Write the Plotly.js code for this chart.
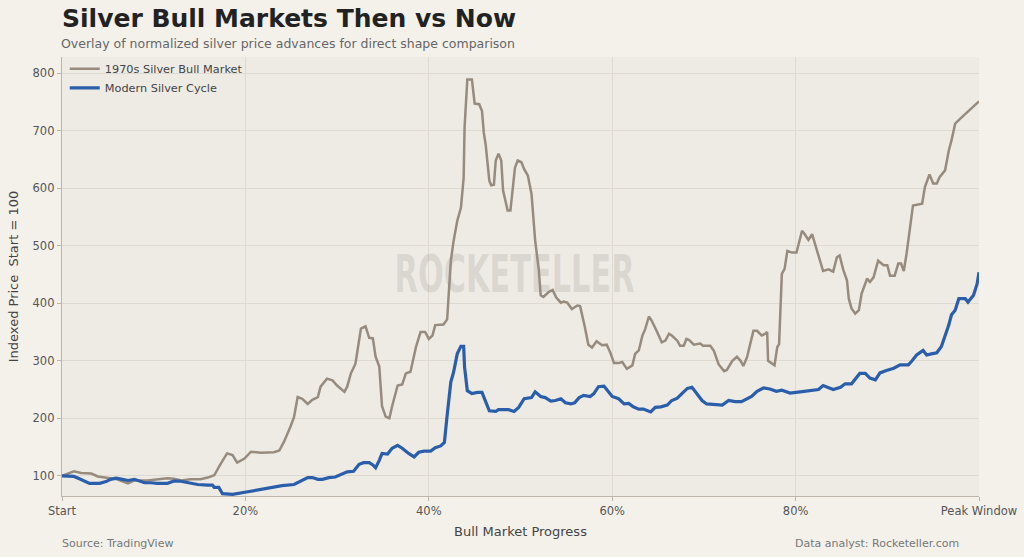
<!DOCTYPE html>
<html>
<head>
<meta charset="utf-8">
<script src="https://cdn.plot.ly/plotly-3.0.1.min.js"></script>
<style>
  html, body { margin: 0; padding: 0; background: #f4f1eb; }
  #chart { width: 1024px; height: 557px; }
</style>
</head>
<body>
<div id="chart"></div>
<script>
// 1970s Silver Bull Market (progress %, indexed price)
const x1970s = [0,1.3,2.1,3.2,3.9,5,6,7.2,7.9,9.3,10.4,11.5,12.2,13,14,15.1,15.9,16.6,17.3,18,18.6,19.1,19.9,20.6,21.7,23.1,23.7,24.2,24.9,25.3,25.7,26.2,26.8,27.3,27.9,28.2,28.9,29.5,30.0,30.8,31.1,31.5,32.0,32.6,33.1,33.5,33.9,34.2,34.6,34.9,35.3,35.7,36.0,36.6,37.1,37.5,38.0,38.6,39.1,39.6,40.0,40.4,40.7,41.6,42.0,42.4,42.7,43.1,43.5,43.8,43.9,44.2,44.7,45.0,45.5,45.8,46.0,46.2,46.6,46.8,47.1,47.3,47.6,47.9,48.1,48.4,48.6,48.9,49.2,49.4,49.7,50.1,50.4,50.8,51.2,51.6,52.0,52.2,52.5,53.1,53.5,53.9,54.4,54.7,55.1,55.6,56.2,56.5,57.0,57.4,57.8,58.3,58.9,59.4,59.8,60.2,60.7,61.1,61.6,62.2,62.5,62.9,63.3,63.6,64.0,64.3,64.9,65.4,65.8,66.2,66.5,67.1,67.4,67.8,68.1,68.4,68.9,69.6,69.9,70.7,71.1,71.6,72.2,72.5,73.1,73.6,74.0,74.3,74.7,75.1,75.4,75.8,76.3,76.7,76.9,77.0,77.4,77.7,78.0,78.2,78.5,78.8,79.1,79.6,80.1,80.7,81.0,81.4,81.8,82.1,82.5,83.0,83.6,84.1,84.5,84.8,85.2,85.6,85.8,86.1,86.5,86.9,87.2,87.8,88.1,88.5,89.0,89.6,90.0,90.3,90.8,91.2,91.5,91.8,92.1,92.5,92.8,93.8,94.1,94.6,95.0,95.4,95.7,96.3,96.7,97.0,97.4,97.9,100];
const y1970s = [100,108,105,104,99,96,94,87,92,92,94,96,95,92,94,94,97,101,121,139,136,123,130,142,140,141,144,159,185,202,237,234,225,232,237,255,269,266,257,246,255,278,295,356,360,340,339,307,290,221,203,200,221,257,259,278,281,324,350,350,338,344,362,363,372,473,508,543,566,618,705,789,789,747,746,734,696,676,613,605,606,648,660,648,596,578,561,561,607,636,648,645,633,622,590,509,457,414,411,420,423,410,401,403,401,390,396,395,360,328,323,334,327,328,314,296,296,298,286,292,312,318,344,355,377,370,350,332,335,347,344,335,326,326,338,336,328,330,326,326,317,294,282,284,300,307,300,291,306,335,352,352,344,347,350,300,295,292,324,329,451,460,491,488,488,526,520,510,520,503,480,456,459,455,480,483,458,440,408,391,382,388,417,443,437,445,474,466,466,448,448,469,469,456,486,538,570,573,602,624,608,608,619,631,665,683,712,720,751];

// Modern Silver Cycle (progress %, indexed price)
const xModern = [0,1.3,1.9,2.4,3.0,4.1,4.8,5.3,5.9,6.6,7.2,7.9,8.4,9.0,9.7,10.4,11.5,12.2,12.8,13.7,14.8,15.9,16.4,16.6,17.1,17.5,18.0,18.6,20.1,22.0,24.0,25.3,26.0,26.8,27.3,27.9,28.4,29.1,29.8,30.6,31.1,31.8,32.4,32.9,33.5,33.9,34.2,34.6,34.9,35.5,36.0,36.6,37.1,37.8,38.4,38.9,39.5,40.2,40.7,41.3,41.7,42.0,42.4,42.7,43.1,43.5,43.8,43.9,44.2,44.7,45.3,45.8,46.2,46.6,47.3,47.6,48.7,49.3,49.8,50.4,51.2,51.6,52.2,52.7,53.3,53.8,54.4,54.9,55.5,55.9,56.4,56.9,57.6,58.0,58.5,59.1,59.4,60.0,60.7,61.3,61.8,62.3,62.9,63.4,64.2,64.7,65.3,66.0,66.5,67.1,67.6,68.2,68.7,69.2,69.8,70.3,71.2,72.0,72.7,73.4,74.1,74.7,75.2,75.8,76.5,77.2,77.9,78.5,79.4,80.5,81.9,82.5,83.0,83.6,84.1,84.9,85.4,86.1,86.5,87.0,87.6,88.1,88.7,89.2,89.9,90.7,91.4,92.3,92.7,93.2,93.9,94.3,94.8,95.4,95.9,96.3,96.7,97.0,97.4,97.8,98.5,98.8,99.4,99.8,100];
const yModern = [100,99,95,91,87,87,90,94,96,94,92,94,91,88,88,87,87,91,91,88,85,84,84,80,80,69,68,68,72,78,83,85,91,97,97,94,94,97,98,103,107,108,120,123,123,119,114,127,139,138,148,153,148,139,133,141,143,143,149,152,158,205,263,280,312,325,325,289,248,243,245,245,228,213,212,215,215,212,219,234,236,246,238,236,230,231,234,227,225,227,236,240,238,243,255,256,250,238,234,225,226,220,216,216,211,219,220,223,231,235,243,252,254,244,231,225,224,223,231,229,229,234,238,247,253,251,247,249,244,246,249,250,257,253,250,254,260,260,268,278,278,270,267,279,283,287,293,293,300,310,318,310,312,314,325,342,362,380,388,408,408,402,414,434,454];

// Axis ticks
const xTickVals = [0, 20, 40, 60, 80, 100];
const xTickText = ["Start", "20%", "40%", "60%", "80%", "Peak Window"];
const yTickVals = [100, 200, 300, 400, 500, 600, 700, 800];

const seriesNames = ["1970s Silver Bull Market", "Modern Silver Cycle"];

const font = "DejaVu Sans, Liberation Sans, sans-serif";
const WATERMARK = "ROCKETELLER";

const traces = [
  {
    x: x1970s, y: y1970s, type: "scatter", mode: "lines",
    name: seriesNames[0],
    line: { color: "#978b7e", width: 2.5 },
    hoverinfo: "skip"
  },
  {
    x: xModern, y: yModern, type: "scatter", mode: "lines",
    name: seriesNames[1],
    line: { color: "#2a5eab", width: 3.2 },
    hoverinfo: "skip"
  }
];

const layout = {
  width: 1024, height: 557,
  paper_bgcolor: "#f4f1eb",
  plot_bgcolor: "#eeebe5",
  margin: { l: 62, r: 45, t: 57, b: 61 },
  font: { family: font, color: "#555", size: 12 },
  title: {
    text: "<b>Silver Bull Markets Then vs Now</b>",
    font: { family: font, size: 25, color: "#222" },
    x: 0, xref: "paper", xanchor: "left",
    y: 0.967, yref: "container", yanchor: "middle",
    pad: { l: 0 }
  },
  showlegend: true,
  legend: {
    x: 0.003, y: 1.006, xanchor: "left", yanchor: "top",
    bgcolor: "rgba(0,0,0,0)",
    font: { family: font, size: 11.3, color: "#444" },
    itemwidth: 30, tracegroupgap: 0
  },
  xaxis: {
    range: [0, 100],
    tickvals: xTickVals, ticktext: xTickText,
    showgrid: true, gridcolor: "#dedad2", gridwidth: 1,
    zeroline: false,
    showline: true, linecolor: "#bdb5aa", linewidth: 1.2,
    ticks: "outside", ticklen: 4, tickcolor: "#bdb5aa",
    tickfont: { family: font, size: 11.5, color: "#555" },
    title: { text: "Bull Market Progress", font: { family: font, size: 13, color: "#444" }, standoff: 9 }
  },
  yaxis: {
    range: [65, 828],
    tickvals: yTickVals,
    showgrid: true, gridcolor: "#dedad2", gridwidth: 1,
    zeroline: false,
    showline: true, linecolor: "#bdb5aa", linewidth: 1.2,
    ticks: "outside", ticklen: 4, tickcolor: "#bdb5aa",
    tickfont: { family: font, size: 11.5, color: "#555" },
    title: { text: "Indexed Price  Start = 100", font: { family: font, size: 13, color: "#444" }, standoff: 11 }
  },
  annotations: [
    {
      text: "Overlay of normalized silver price advances for direct shape comparison",
      xref: "paper", yref: "paper", x: 0, y: 1 + 14 / 439, xanchor: "left", yanchor: "middle",
      xshift: -3,
      showarrow: false, font: { family: font, size: 12.5, color: "#666" }
    },
    {
      text: "<b>" + WATERMARK + "</b>",
      xref: "paper", yref: "paper", x: 0.4935, y: 0.505, xanchor: "center", yanchor: "middle",
      showarrow: false,
      font: { family: "DejaVu Sans, sans-serif", size: 51, color: "rgba(150,145,138,0.22)" }
    },
    {
      text: "Source: TradingView",
      xref: "paper", yref: "paper", x: 0, y: -47 / 439, xanchor: "left", yanchor: "middle",
      xshift: -2,
      showarrow: false, font: { family: font, size: 11, color: "#777" }
    },
    {
      text: "Data analyst: Rocketeller.com",
      xref: "paper", yref: "paper", x: 0.977, y: -47 / 439, xanchor: "right", yanchor: "middle",
      xshift: 3,
      showarrow: false, font: { family: font, size: 11, color: "#777" }
    }
  ]
};

Plotly.newPlot("chart", traces, layout, { displayModeBar: false, staticPlot: true }).then(function (gd) {
  // condense the watermark text horizontally (like a narrow bold face)
  const texts = gd.querySelectorAll(".annotation-text");
  texts.forEach(function (t) {
    if (t.textContent === WATERMARK) {
      const bb = t.getBBox();
      const cx = bb.x + bb.width / 2;
      const sx = 240 / bb.width;
      t.setAttribute("transform", "translate(" + cx + ",0) scale(" + sx + ",1) translate(" + (-cx) + ",0)");
    }
  });
});
</script>
</body>
</html>
